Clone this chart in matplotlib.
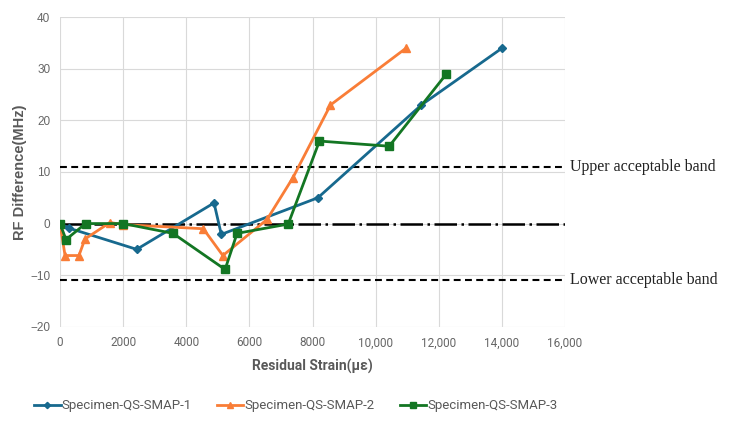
import matplotlib
matplotlib.use("Agg")
import matplotlib.pyplot as plt

# Data
s1_x = [0, 290, 2430, 4880, 5110, 8170, 11450, 14000]
s1_y = [0, -0.9, -5.0, 4.0, -2.1, 5.0, 23.0, 34.0]

s2_x = [0, 160, 600, 790, 1580, 2000, 4540, 5160, 6560, 7380, 8570, 10960]
s2_y = [0, -6.2, -6.2, -3.0, 0.2, -0.2, -1.0, -6.2, 0.8, 8.9, 23.0, 34.0]

s3_x = [0, 190, 810, 2000, 3580, 5230, 5610, 7230, 8220, 10430, 12240]
s3_y = [0, -3.1, 0, 0, -1.9, -8.9, -1.9, -0.1, 16.0, 15.0, 29.0]

labels = ["Specimen-QS-SMAP-1", "Specimen-QS-SMAP-2", "Specimen-QS-SMAP-3"]
upper_band = 11
lower_band = -11
x_ticks = [0, 2000, 4000, 6000, 8000, 10000, 12000, 14000, 16000]
x_tick_labels = ["0", "2000", "4000", "6000", "8000", "10,000", "12,000", "14,000", "16,000"]
y_ticks = [-20, -10, 0, 10, 20, 30, 40]
y_tick_labels = ["\u221220", "\u221210", "0", "10", "20", "30", "40"]

c1 = "#17698E"
c2 = "#F97D37"
c3 = "#137623"

fig = plt.figure(figsize=(7.31, 4.21), dpi=100)
ax = fig.add_axes([60/731, 1-326.7/421, 505/731, 309.4/421])

ax.set_xlim(0, 16000)
ax.set_ylim(-20, 40)
ax.set_xticks(x_ticks)
ax.set_xticklabels(x_tick_labels, fontfamily="Roboto", fontsize=8.5, color="#666666")
ax.set_yticks(y_ticks)
ax.set_yticklabels(y_tick_labels, fontfamily="Liberation Sans", fontsize=8.5, color="#666666")
ax.tick_params(length=0, pad=7)
ax.grid(True, color="#D9D9D9", linewidth=0.8)
ax.set_axisbelow(True)
for sp in ax.spines.values():
    sp.set_visible(False)

ax.axhline(upper_band, color="black", linestyle=(0, (3.3, 2.1)), linewidth=1.5, zorder=2, clip_on=False)
ax.axhline(lower_band, color="black", linestyle=(0, (3.3, 2.1)), linewidth=1.5, zorder=2, clip_on=False)
ax.axhline(0, color="black", linestyle=(0, (9, 1.8, 1, 1.8)), linewidth=1.8, zorder=2)

ax.plot(s1_x, s1_y, color=c1, marker="D", markersize=4, linewidth=2, label=labels[0], zorder=3)
ax.plot(s2_x, s2_y, color=c2, marker="^", markersize=6, linewidth=2, label=labels[1], zorder=3)
ax.plot(s3_x, s3_y, color=c3, marker="s", markersize=6, linewidth=2, label=labels[2], zorder=4)

ax.text(16150, upper_band, "Upper acceptable band", fontfamily="Liberation Serif", fontsize=11.5,
        va="center", ha="left", color="#222222")
ax.text(16150, lower_band, "Lower acceptable band", fontfamily="Liberation Serif", fontsize=11.5,
        va="center", ha="left", color="#222222")

ax.set_xlabel("Residual Strain(\u03bc\u03b5)", fontfamily="Roboto", fontweight="bold", fontsize=10,
              color="#595959", labelpad=7)
ax.set_ylabel("RF Difference(MHz)", fontfamily="Liberation Sans", fontweight="bold", fontsize=10.5,
              color="#595959", labelpad=2)

leg = fig.legend(loc="center", bbox_to_anchor=(296/731, 1-406/421), ncol=3, frameon=False,
                 prop={"family": "Roboto", "size": 9.5}, handlelength=2.0, handletextpad=0.1,
                 columnspacing=1.9, labelcolor="#595959", markerscale=0.8)

fig.savefig("out.png", dpi=100)
